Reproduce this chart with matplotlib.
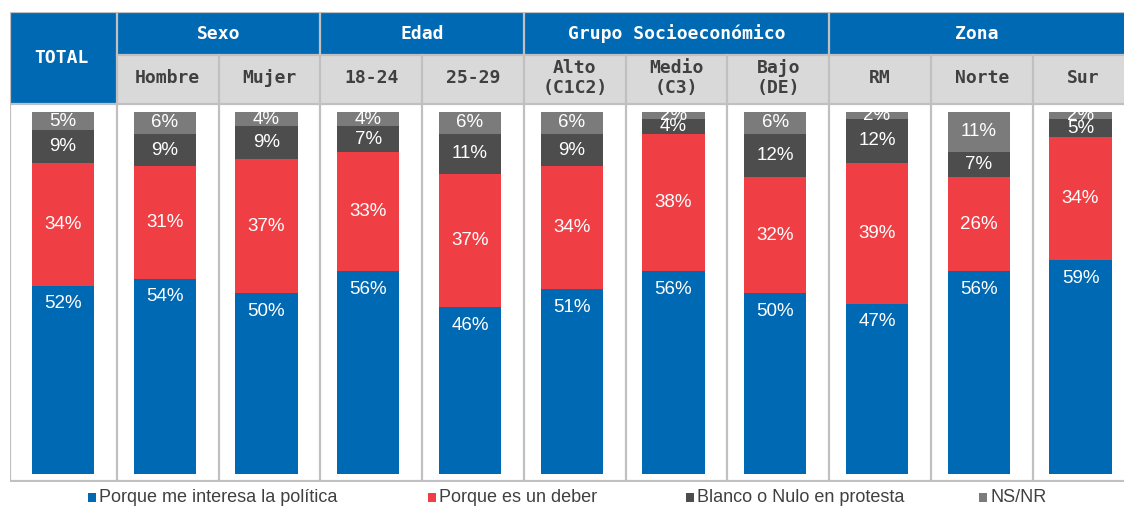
import matplotlib
matplotlib.use("Agg")
import matplotlib.pyplot as plt
from matplotlib.patches import Rectangle
import numpy as np

# datos
categorias = ["TOTAL", "Hombre", "Mujer", "18-24", "25-29", "Alto\n(C1C2)",
              "Medio\n(C3)", "Bajo\n(DE)", "RM", "Norte", "Sur"]
grupos = ["Sexo", "Edad", "Grupo Socioeconómico", "Zona"]
grupo_cols = [(1, 2), (3, 4), (5, 7), (8, 10)]
series = ["Porque me interesa la política", "Porque es un deber",
          "Blanco o Nulo en protesta", "NS/NR"]
interesa = [52, 54, 50, 56, 46, 51, 56, 50, 47, 56, 59]
deber = [34, 31, 37, 33, 37, 34, 38, 32, 39, 26, 34]
blanco = [9, 9, 9, 7, 11, 9, 4, 12, 12, 7, 5]
nsnr = [5, 6, 4, 4, 6, 6, 2, 6, 2, 11, 2]

colores = ["#0069B4", "#EF3F45", "#4D4D4D", "#7B7B7B"]
BLUE = "#0069B4"
GRID = "#C0C0C0"

W, H = 1124, 508
fig = plt.figure(figsize=(W / 100, H / 100), dpi=100)

# escala x: centro barra 0 en px 63, paso 101.75 px
paso = 101.75
x0px = 63
xlim = ((10 - x0px) / paso, (W - x0px) / paso)


def fx(px):
    return px / W


def fy(py):
    return 1 - py / H


# tabla de fondo (coordenadas y en pixeles)
tab = fig.add_axes([fx(10), fy(482), fx(W) - fx(10), fy(12) - fy(482)])
tab.set_xlim(*xlim)
tab.set_ylim(482, 12)
tab.axis("off")

x = np.arange(len(categorias))
bordes = x[:-1] + 0.53

# celdas de encabezado
tab.add_patch(Rectangle((xlim[0], 12), bordes[0] - xlim[0], 92, color=BLUE, lw=0))
tab.add_patch(Rectangle((bordes[0], 12), xlim[1] - bordes[0], 43, color=BLUE, lw=0))
tab.add_patch(Rectangle((bordes[0], 55), xlim[1] - bordes[0], 49, color="#D9D9D9", lw=0))

fmono = dict(family="DejaVu Sans Mono", weight="bold", fontsize=13)
tab.text(x[0] - 0.02, 58, "TOTAL", color="white", ha="center", va="center", **fmono)
for g, (a, b) in zip(grupos, grupo_cols):
    izq = bordes[a - 1]
    der = bordes[b] if b < len(bordes) else xlim[1]
    tab.text((izq + der) / 2, 34, g, color="white", ha="center", va="center", **fmono)
for i in range(1, len(categorias)):
    tab.text(x[i] + 0.03, 78, categorias[i], color="#404040", ha="center",
             va="center", linespacing=1.15, **fmono)

# lineas de la tabla
lw = 1.6
tab.plot([xlim[0], xlim[1]], [12, 12], color=GRID, lw=lw)
tab.plot([xlim[0], xlim[1]], [104, 104], color=GRID, lw=lw)
tab.plot([bordes[0], xlim[1]], [55, 55], color=GRID, lw=lw)
tab.plot([xlim[0], xlim[1]], [481, 481], color=GRID, lw=lw)
tab.plot([xlim[0], xlim[0]], [12, 481], color=GRID, lw=lw)
inicio_grupo = [a for a, b in grupo_cols]
for i, bx in enumerate(bordes):
    ytop = 12 if (i + 1) in inicio_grupo or i == 0 else 55
    tab.plot([bx, bx], [ytop, 481], color=GRID, lw=lw)

# barras
ax = fig.add_axes([fx(10), fy(474), fx(W) - fx(10), fy(112) - fy(474)])
ax.set_xlim(*xlim)
ax.set_ylim(0, 100)
ax.axis("off")
ax.patch.set_alpha(0)

valores = [interesa, deber, blanco, nsnr]
base = np.zeros(len(categorias))
ancho = 0.61
flab = dict(family="Liberation Sans", fontsize=13.5, color="white")
for k, (vals, c) in enumerate(zip(valores, colores)):
    vals = np.array(vals, dtype=float)
    ax.bar(x, vals, ancho, bottom=base, color=c, lw=0)
    for i in range(len(x)):
        if k == 0:
            yl = base[i] + vals[i] - 5
        else:
            yl = base[i] + vals[i] / 2
        ax.text(x[i], yl, f"{int(vals[i])}%", ha="center", va="center",
                clip_on=True, **flab)
    base += vals

# leyenda
leg_x = [88, 428, 686, 979]
for px, s, c in zip(leg_x, series, colores):
    fig.patches.append(Rectangle((fx(px), fy(502)), fx(8), 9 / H, color=c,
                                 transform=fig.transFigure, lw=0))
    fig.text(fx(px + 11), fy(497), s, ha="left", va="center", color="#404040",
             family="Liberation Sans", fontsize=13)

fig.savefig("out.png", dpi=100)
